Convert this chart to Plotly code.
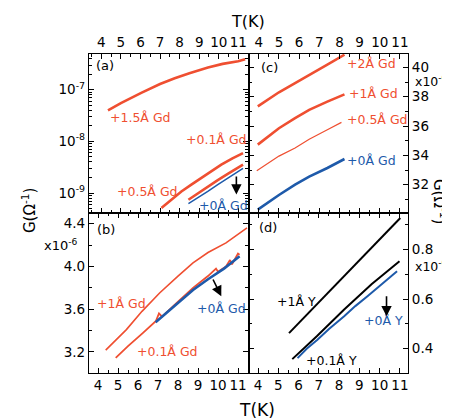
import plotly.graph_objects as go

W, H = 450, 420
RED = "#EF4F31"
BLUE = "#1E5AAA"
FONT = "DejaVu Sans"

# ---------------- data ----------------
# panel (a): G (Ohm^-1), log scale
a_T_15 = [4.34, 5.0, 6.04, 7.0, 7.75, 8.5, 9.45, 10.2, 10.99, 11.35]
a_G_15 = [3.98e-8, 5.5e-8, 8.7e-8, 1.29e-7, 1.66e-7, 2.09e-7, 2.69e-7, 3.16e-7, 3.55e-7, 3.9e-7]
a_T_05 = [7.07, 7.6, 8.09, 8.6, 9.11, 9.6, 10.13, 10.7, 11.24]
a_G_05 = [5.1e-10, 7.6e-10, 1.07e-9, 1.45e-9, 1.95e-9, 2.63e-9, 3.55e-9, 4.7e-9, 5.9e-9]
a_T_01 = [8.45, 8.95, 9.44, 9.95, 10.46, 10.85, 11.24]
a_G_01 = [7.4e-10, 1.0e-9, 1.35e-9, 1.78e-9, 2.34e-9, 2.9e-9, 3.55e-9]
a_T_0 = [8.45, 8.95, 9.44, 9.95, 10.46, 10.85, 11.24]
a_G_0 = [6.2e-10, 8.1e-10, 1.07e-9, 1.45e-9, 1.95e-9, 2.45e-9, 3.0e-9]

# panel (b): G in units of 1e-6 Ohm^-1
b_T_1 = [4.385, 4.9, 5.42, 6.2, 7.08, 8.0, 8.75, 9.5, 10.4, 11.45]
b_G_1 = [3.217, 3.31, 3.409, 3.58, 3.752, 3.91, 4.033, 4.13, 4.22, 4.36]
b_T_01 = [4.885, 5.5, 6.25, 6.9, 7.05, 7.2, 8.0, 8.75, 9.5, 9.9, 10.0, 10.4, 10.6, 10.7, 11.0, 11.08]
b_G_01 = [3.145, 3.255, 3.379, 3.49, 3.56, 3.53, 3.67, 3.80, 3.91, 3.98, 3.95, 4.0, 4.06, 4.02, 4.12, 4.11]
b_T_0 = [6.88, 7.5, 8.0, 8.75, 9.5, 10.3, 11.08]
b_G_0 = [3.478, 3.58, 3.665, 3.78, 3.88, 3.98, 4.095]

# panel (c): G in units of 1e-6 Ohm^-1
c_T = [3.95, 4.5, 5.0, 5.8, 6.5, 7.4, 8.25]
c_G_2 = [37.34, 37.85, 38.30, 38.93, 39.50, 40.18, 40.86]
c_G_1 = [34.73, 35.35, 35.85, 36.54, 37.10, 37.66, 38.16]
c_T_05 = [3.9, 4.5, 5.0, 5.8, 6.5, 7.4, 8.1]
c_G_05 = [32.95, 33.5, 33.95, 34.5, 35.1, 35.75, 36.25]
c_G_0 = [30.3, 30.85, 31.3, 32.0, 32.55, 33.14, 33.75]

# panel (d): G in units of 1e-6 Ohm^-1
d_T_1 = [5.53, 6.9, 8.25, 9.6, 11.02]
d_G_1 = [0.463, 0.578, 0.692, 0.808, 0.928]
d_T_01 = [5.69, 6.9, 8.25, 9.6, 10.98]
d_G_01 = [0.358, 0.45, 0.558, 0.66, 0.753]
d_T_0 = [5.95, 6.4, 6.93, 7.5, 8.25, 8.8, 9.4, 10.1, 10.86]
d_G_0 = [0.362, 0.40, 0.436, 0.48, 0.531, 0.572, 0.612, 0.66, 0.713]

x_ticks = [4, 5, 6, 7, 8, 9, 10, 11]
a_decades = [1e-9, 1e-8, 1e-7]
a_decade_text = ["10<sup>-9</sup>", "10<sup>-8</sup>", "10<sup>-7</sup>"]
a_minor = [k * d for d in [1e-10, 1e-9, 1e-8, 1e-7] for k in range(2, 10)]

# ---------------- layout helpers ----------------
def px(x):
    return x / W

def py(y):
    return 1 - y / H

XL = [px(81), px(240.5)]
XR = [px(240.5), px(400)]
YT = [py(205), py(46)]
YB = [py(365), py(205)]

fig = go.Figure()

def line(x, y, color, width, xa, ya):
    fig.add_trace(go.Scatter(x=x, y=y, mode="lines", xaxis=xa, yaxis=ya,
                             line=dict(color=color, width=width), showlegend=False,
                             hoverinfo="skip"))

line(a_T_15, a_G_15, RED, 2.6, "x", "y")
line(a_T_05, a_G_05, RED, 2.6, "x", "y")
line(a_T_01, a_G_01, RED, 2.6, "x", "y")
line(a_T_0, a_G_0, BLUE, 1.5, "x", "y")

line(b_T_1, b_G_1, RED, 1.6, "x2", "y2")
line(b_T_01, b_G_01, RED, 1.8, "x2", "y2")
line(b_T_0, b_G_0, BLUE, 2.6, "x2", "y2")

line(c_T, c_G_2, RED, 2.6, "x3", "y3")
line(c_T, c_G_1, RED, 2.6, "x3", "y3")
line(c_T_05, c_G_05, RED, 1.2, "x3", "y3")
line(c_T, c_G_0, BLUE, 2.6, "x3", "y3")

line(d_T_1, d_G_1, "black", 2.0, "x4", "y4")
line(d_T_01, d_G_01, "black", 2.0, "x4", "y4")
line(d_T_0, d_G_0, BLUE, 2.0, "x4", "y4")

tickfont = dict(family=FONT, size=13.5, color="black")
common = dict(showline=True, linecolor="black", linewidth=1.3, mirror="ticks",
              ticks="inside", ticklen=5, tickcolor="black", tickwidth=1,
              showgrid=False, zeroline=False, tickfont=tickfont)
xminor = dict(ticks="inside", ticklen=3, dtick=0.5, tickcolor="black", showgrid=False)

fig.update_layout(
    width=W, height=H, margin=dict(l=0, r=0, t=0, b=0),
    paper_bgcolor="white", plot_bgcolor="white",
    xaxis=dict(domain=XL, anchor="y", side="top", range=[3.37, 11.52],
               tickvals=x_ticks, minor=xminor, **common),
    yaxis=dict(domain=YT, anchor="x", type="log", range=[-9.387, -6.309],
               tickvals=a_decades, ticktext=a_decade_text,
               minor=dict(ticks="inside", ticklen=3, tickvals=a_minor,
                          tickcolor="black", showgrid=False),
               **common),
    xaxis2=dict(domain=XL, anchor="y2", side="bottom", range=[3.55, 11.525],
                tickvals=x_ticks, minor=xminor, **common),
    yaxis2=dict(domain=YB, anchor="x2", range=[3.003, 4.5],
                tickvals=[3.2, 3.6, 4.0, 4.4], ticktext=["3.2", "3.6", "4.0", "4.4"],
                minor=dict(ticks="inside", ticklen=3, dtick=0.2, tickcolor="black", showgrid=False),
                **common),
    xaxis3=dict(domain=XR, anchor="y3", side="top", range=[3.49, 11.40],
                tickvals=x_ticks, minor=xminor, **common),
    yaxis3=dict(domain=YT, anchor="x3", side="right", range=[30.07, 40.91],
                tickvals=[32, 34, 36, 38, 40],
                minor=dict(ticks="inside", ticklen=3, dtick=1, tickcolor="black", showgrid=False),
                **common),
    xaxis4=dict(domain=XR, anchor="y4", side="bottom", range=[3.53, 11.40],
                tickvals=x_ticks, minor=xminor, **common),
    yaxis4=dict(domain=YB, anchor="x4", side="right", range=[0.302, 0.948],
                tickvals=[0.4, 0.6, 0.8], ticktext=["0.4", "0.6", "0.8"],
                minor=dict(ticks="inside", ticklen=3, dtick=0.1, tickcolor="black", showgrid=False),
                **common),
)

ann = []

def text(x, y, s, color="black", size=12.5, anchor="left", angle=0):
    ann.append(dict(x=px(x), y=py(y), xref="paper", yref="paper", text=s,
                    showarrow=False, xanchor=anchor, yanchor="middle",
                    textangle=angle, font=dict(family=FONT, size=size, color=color)))

# panel (a)
text(86, 58, "(a)", size=13)
text(100, 110, "+1.5Å Gd", RED)
text(176, 131, "+0.1Å Gd", RED)
text(107, 183, "+0.5Å Gd", RED)
text(189, 197, "+0Å Gd", BLUE)
# panel (b)
text(87, 221, "(b)", size=13)
text(87, 295, "+1Å Gd", RED)
text(127, 343, "+0.1Å Gd", RED)
text(187, 300, "+0Å Gd", BLUE)
# panel (c)
text(251, 60, "(c)", size=13)
text(337, 56, "+2Å Gd", RED)
text(339, 86, "+1Å Gd", RED)
text(337, 112, "+0.5Å Gd", RED)
text(337, 152, "+0Å Gd", BLUE)
# panel (d)
text(249, 219, "(d)", size=13)
text(267, 293, "+1Å Y")
text(296, 352, "+0.1Å Y")
text(354, 312, "+0Å Y", BLUE)
# axis titles and multipliers
text(240, 13, "T(K)", size=16, anchor="center")
text(249, 402, "T(K)", size=17, anchor="center")
text(21, 203, "G(Ω<sup>-1</sup>)", size=15, anchor="center", angle=-90)
text(432, 193, "G(Ω<sup>-1</sup>)", size=15, anchor="center", angle=90)
text(34, 237, "x10<sup>-6</sup>", size=13)
text(405, 73, "x10<sup>-6</sup>", size=12.5)
text(405, 258, "x10<sup>-6</sup>", size=12.5)

# arrows (data coordinates of each panel)
def arrow(xa, ya, x0, y0, x1, y1):
    ann.append(dict(x=x1, y=y1, ax=x0, ay=y0, xref=xa, yref=ya, axref=xa, ayref=ya,
                    showarrow=True, arrowhead=2, arrowsize=1.3, arrowwidth=1.6,
                    arrowcolor="black", text=""))

arrow("x", "y", 10.9, -8.65, 10.9, -9.03)
arrow("x2", "y2", 9.715, 3.892, 10.165, 3.721)
arrow("x4", "y4", 10.34, 0.618, 10.34, 0.531)

fig.update_layout(annotations=ann)
fig.write_html("out.html")
